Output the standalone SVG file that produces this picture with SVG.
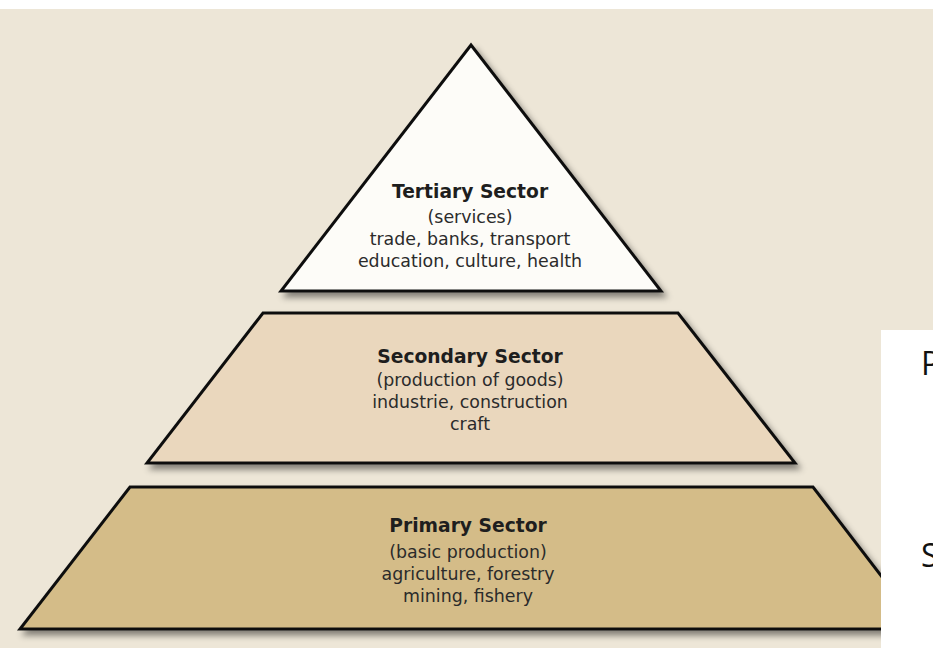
<svg xmlns="http://www.w3.org/2000/svg" width="933" height="648" viewBox="0 0 933 648">
<defs>
<filter id="sh" x="-10%" y="-10%" width="130%" height="130%">
<feDropShadow dx="4" dy="5" stdDeviation="3" flood-color="#000" flood-opacity="0.45"/>
</filter>
<style>
.tier{stroke:#111;stroke-width:3;stroke-linejoin:miter}
.t{font-family:"DejaVu Sans",sans-serif;fill:#2b2b2b;text-anchor:middle;font-size:17.4px}
.b{font-weight:bold;font-size:18.7px;fill:#1e1e1e}
.side{font-family:"Open Sans","Liberation Sans",sans-serif;font-size:32px;fill:#111}
</style>
</defs>
<rect x="0" y="0" width="933" height="648" fill="#ede6d7"/>
<rect x="0" y="0" width="933" height="9" fill="#ffffff"/>
<g id="primary">
<polygon class="tier" points="130,487 813,487 922,629 20,629" fill="#d4bc88" filter="url(#sh)"/>
<text class="t b" x="468" y="532">Primary Sector</text>
<text class="t" x="468" y="558">(basic production)</text>
<text class="t" x="468" y="580">agriculture, forestry</text>
<text class="t" x="468" y="602">mining, fishery</text>
</g>
<g id="secondary">
<polygon class="tier" points="263,313 678,313 795,463 147,463" fill="#ead7bd" filter="url(#sh)"/>
<text class="t b" x="470" y="363">Secondary Sector</text>
<text class="t" x="470" y="386">(production of goods)</text>
<text class="t" x="470" y="408">industrie, construction</text>
<text class="t" x="470" y="430">craft</text>
</g>
<g id="tertiary">
<polygon class="tier" points="471,45 661,291 281,291" fill="#fdfcf8" filter="url(#sh)"/>
<text class="t b" x="470" y="198">Tertiary Sector</text>
<text class="t" x="470" y="223">(services)</text>
<text class="t" x="470" y="245">trade, banks, transport</text>
<text class="t" x="470" y="267">education, culture, health</text>
</g>
<g id="side-panel">
<rect x="881" y="330" width="52" height="318" fill="#ffffff"/>
<text class="side" x="921" y="375">P</text>
<text class="side" x="921" y="567">S</text>
</g>
</svg>
